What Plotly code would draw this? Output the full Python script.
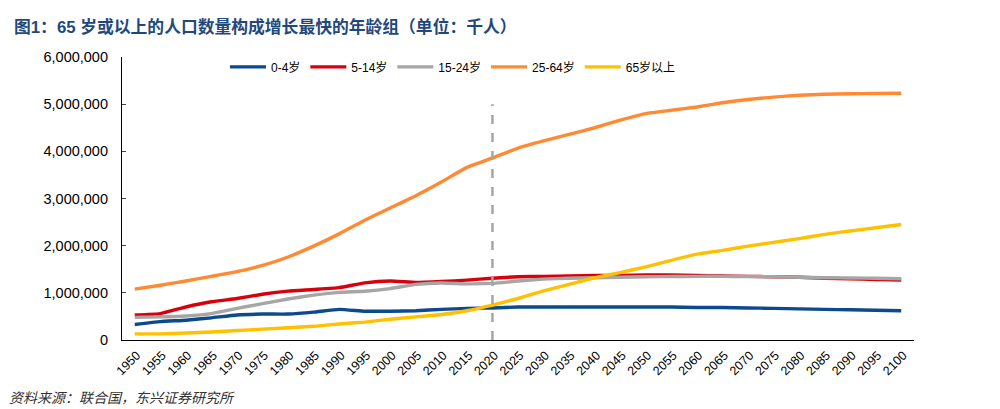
import plotly.graph_objects as go

# 年份（类别轴）
years = [str(y) for y in range(1950, 2101, 5)]

# 各年龄组人口（千人），读自原图
age_0_4 = [330000, 390000, 420000, 470000, 530000, 550000, 550000, 590000, 650000, 610000,
           610000, 620000, 650000, 670000, 680000, 700000, 700000, 700000, 700000, 700000,
           700000, 700000, 690000, 690000, 680000, 670000, 660000, 650000, 640000, 630000, 620000]
age_5_14 = [530000, 560000, 700000, 810000, 880000, 970000, 1035000, 1070000, 1110000, 1210000,
            1250000, 1220000, 1240000, 1270000, 1310000, 1340000, 1350000, 1360000, 1370000, 1370000,
            1380000, 1380000, 1370000, 1360000, 1350000, 1340000, 1330000, 1310000, 1300000, 1280000, 1270000]
age_15_24 = [480000, 490000, 510000, 560000, 670000, 770000, 870000, 950000, 1010000, 1035000,
             1090000, 1180000, 1210000, 1190000, 1200000, 1250000, 1290000, 1310000, 1320000, 1330000,
             1340000, 1345000, 1350000, 1350000, 1345000, 1340000, 1330000, 1320000, 1315000, 1310000, 1300000]
age_25_64 = [1080000, 1160000, 1250000, 1350000, 1450000, 1580000, 1760000, 1990000, 2250000, 2540000,
             2800000, 3060000, 3350000, 3660000, 3860000, 4070000, 4220000, 4360000, 4500000, 4660000,
             4800000, 4870000, 4940000, 5030000, 5100000, 5150000, 5190000, 5210000, 5220000, 5225000, 5230000]
age_65_plus = [130000, 130000, 150000, 170000, 200000, 230000, 260000, 290000, 340000, 380000,
               440000, 490000, 540000, 620000, 740000, 880000, 1040000, 1180000, 1320000, 1430000,
               1550000, 1690000, 1820000, 1900000, 1990000, 2070000, 2150000, 2240000, 2310000, 2380000, 2450000]

series_names = ['0-4岁', '5-14岁', '15-24岁', '25-64岁', '65岁以上']
series_colors = ['#0B4A8E', '#D9000D', '#A6A6A6', '#FF8A33', '#FFC000']

# 当前年份分隔线
divider_year = '2020'
divider_top = 5000000

fig = go.Figure()
for name, vals, col in zip(series_names,
                           [age_0_4, age_5_14, age_15_24, age_25_64, age_65_plus],
                           series_colors):
    fig.add_trace(go.Scatter(x=years, y=vals, name=name, mode='lines',
                             line=dict(color=col, width=3.4, shape='spline', smoothing=0.4)))

fig.add_trace(go.Scatter(x=[divider_year, divider_year], y=[0, divider_top], mode='lines',
                         line=dict(color='#A6A6A6', width=2.5, dash='dash'),
                         showlegend=False, hoverinfo='skip'))

cjk = '"Liberation Sans", Arial, "Noto Sans CJK SC", sans-serif'

# 页面自带 8px 边距，这里的边距已减去
fig.update_layout(
    width=1000, height=409,
    margin=dict(l=114, r=94, t=49, b=77, autoexpand=False),
    plot_bgcolor='white', paper_bgcolor='white',
    font=dict(family=cjk, color='black', size=12),
    showlegend=True,
    legend=dict(orientation='h', x=0.13, y=0.965, xanchor='left', yanchor='middle',
                font=dict(size=12), bgcolor='rgba(0,0,0,0)', itemwidth=36,
                tracegroupgap=0),
    xaxis=dict(type='category', range=[-0.5, len(years) - 0.5], showline=True,
               linecolor='black', linewidth=1.2,
               showgrid=False, ticks='', tickangle=-45, tickfont=dict(size=12.5),
               mirror=False, automargin=False, ticklabelshift=2, ticklabelstandoff=2),
    yaxis=dict(range=[0, 6000000], dtick=1000000, tickformat=',d', showline=True,
               linecolor='black', linewidth=1.2, showgrid=False, ticks='inside',
               ticklen=4, tickfont=dict(size=14.5), zeroline=False, automargin=False,
               ticklabelstandoff=10),
    annotations=[
        dict(text='<b>图1：65 岁或以上的人口数量构成增长最快的年龄组（单位：千人）</b>',
             xref='paper', yref='paper', x=-0.139, y=1.106, xanchor='left', yanchor='middle',
             showarrow=False, font=dict(size=16.8, color='#1F497D', family=cjk)),
        dict(text='<i>资料来源：联合国，东兴证券研究所</i>',
             xref='paper', yref='paper', x=-0.145, y=-0.2, xanchor='left', yanchor='middle',
             showarrow=False, font=dict(size=14, color='#333333',
                                        family='"Noto Sans CJK SC", sans-serif')),
    ],
)

fig.write_html("out.html")
